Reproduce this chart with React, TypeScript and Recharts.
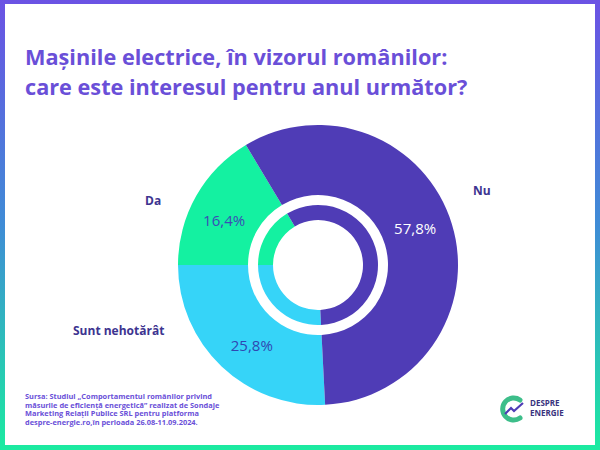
import React from "react";
import { PieChart, Pie, Cell } from "recharts";

const categories = ["Da", "Sunt nehotărât", "Nu"];
const values = [16.4, 25.8, 57.8];
const labels = ["16,4%", "25,8%", "57,8%"];
const colors = ["#14F1A1", "#36D4F8", "#4F3CB6"];
const labelColors = ["#3B4DB6", "#3047B2", "#FFFFFF"];

const sourceLines = [
  "Sursa: Studiul „Comportamentul românilor privind",
  "măsurile de eficiență energetică” realizat de Sondaje",
  "Marketing Relații Publice SRL pentru platforma",
  "despre-energie.ro,în perioada 26.08-11.09.2024.",
];

const data = categories.map((name, i) => ({ name, value: values[i], label: labels[i] }));

const RAD = Math.PI / 180;

// percent labels sit a little past the slice middle, like in the original
function renderPct(props: any) {
  const { cx, cy, midAngle, index } = props;
  const r = 104;
  const a = midAngle + 4;
  const x = cx + r * Math.cos(-a * RAD);
  const y = cy + r * Math.sin(-a * RAD);
  return (
    <text
      x={x}
      y={y}
      fill={labelColors[index]}
      textAnchor="middle"
      dominantBaseline="central"
      fontSize={15}
      fontFamily="'Open Sans', sans-serif"
    >
      {data[index].label}
    </text>
  );
}

const nameStyle: React.CSSProperties = {
  position: "absolute",
  fontFamily: "'Open Sans', sans-serif",
  fontWeight: 700,
  fontSize: 12,
  color: "#3D3490",
  lineHeight: "14px",
  whiteSpace: "nowrap",
};

export default function App() {
  return (
    <div
      style={{
        position: "fixed",
        left: 0,
        top: 0,
        width: 600,
        height: 450,
        background: "linear-gradient(180deg, #6B52E4 0%, #3F8CD6 50%, #1BEBA0 100%)",
      }}
    >
      <div
        style={{
          position: "absolute",
          left: 5,
          top: 4,
          right: 5,
          bottom: 5,
          background: "#FFFFFF",
        }}
      />
      <div
        style={{
          position: "absolute",
          left: 25,
          top: 42,
          fontFamily: "'Open Sans', sans-serif",
          fontWeight: 700,
          fontSize: 21.7,
          lineHeight: "30px",
          color: "#6A4FD8",
          whiteSpace: "nowrap",
        }}
      >
        <div>Mașinile electrice, în vizorul românilor:</div>
        <div>care este interesul pentru anul următor?</div>
      </div>

      <div style={{ position: "absolute", left: 0, top: 0 }}>
        <PieChart width={600} height={450} margin={{ top: 0, right: 0, bottom: 0, left: 0 }}>
          <Pie
            data={data}
            dataKey="value"
            cx={318}
            cy={265}
            innerRadius={70}
            outerRadius={140}
            startAngle={121}
            endAngle={481}
            stroke="none"
            label={renderPct}
            labelLine={false}
            isAnimationActive={false}
          >
            {data.map((d, i) => (
              <Cell key={d.name} fill={colors[i]} />
            ))}
          </Pie>
          <Pie
            data={data}
            dataKey="value"
            cx={318}
            cy={265}
            innerRadius={45}
            outerRadius={60}
            startAngle={121}
            endAngle={481}
            stroke="none"
            isAnimationActive={false}
          >
            {data.map((d, i) => (
              <Cell key={d.name} fill={colors[i]} />
            ))}
          </Pie>
        </PieChart>
      </div>

      <div style={{ ...nameStyle, left: 145, top: 194 }}>{categories[0]}</div>
      <div style={{ ...nameStyle, left: 473, top: 184 }}>{categories[2]}</div>
      <div style={{ ...nameStyle, left: 73, top: 324 }}>{categories[1]}</div>

      <div
        style={{
          position: "absolute",
          left: 25,
          top: 392,
          fontFamily: "'Open Sans', sans-serif",
          fontWeight: 700,
          fontSize: 7.4,
          lineHeight: "8.7px",
          color: "#6A4FD8",
          whiteSpace: "nowrap",
        }}
      >
        {sourceLines.map((l) => (
          <div key={l}>{l}</div>
        ))}
      </div>

      <svg style={{ position: "absolute", left: 498, top: 395 }} width={30} height={28}>
        <path
          d="M22 5 A11 11 0 1 0 22 23"
          fill="none"
          stroke="#3DBE8A"
          strokeWidth={5}
          strokeLinecap="round"
        />
        <path d="M7 19 L13 13 L16 16 L25 8" fill="none" stroke="#4F3CB6" strokeWidth={2.2} />
      </svg>
      <div
        style={{
          position: "absolute",
          left: 530,
          top: 398,
          fontFamily: "'Open Sans', sans-serif",
          fontWeight: 700,
          fontSize: 8,
          lineHeight: "9.5px",
          color: "#3A347E",
        }}
      >
        <div>DESPRE</div>
        <div>ENERGIE</div>
      </div>
    </div>
  );
}
